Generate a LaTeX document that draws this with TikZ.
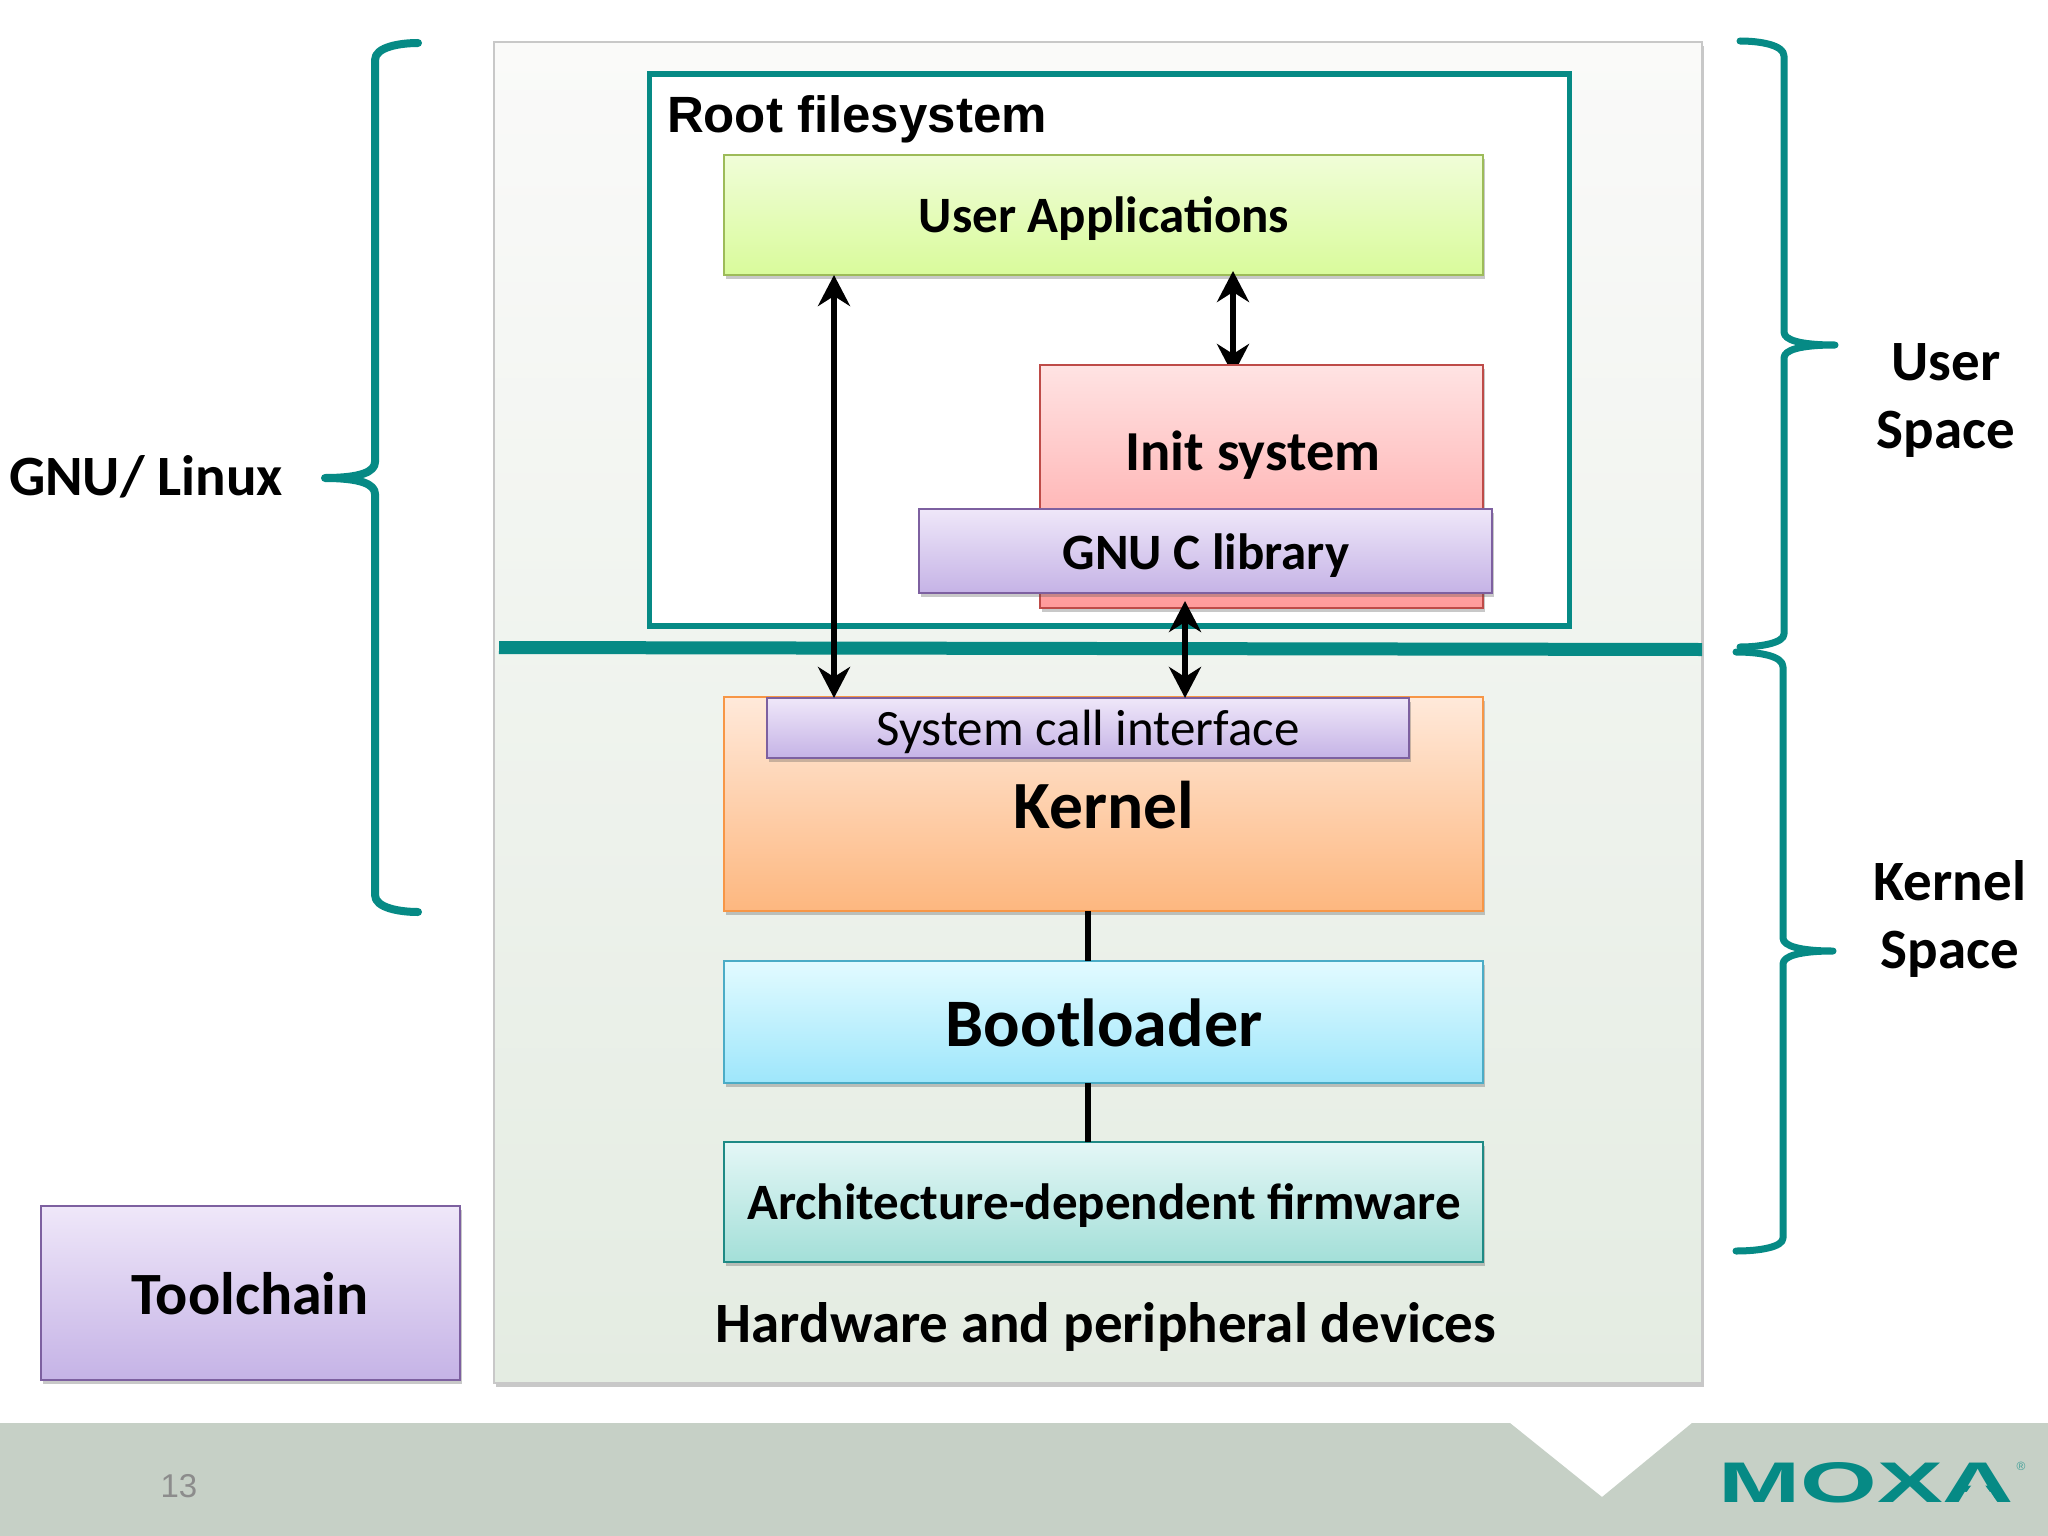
\documentclass[tikz,border=0pt]{standalone}
\usepackage{fontspec}
\setmainfont{Carlito}
\newfontfamily\arialfont{Liberation Sans}
\usetikzlibrary{arrows.meta,shadows,calc}
\definecolor{teal1}{HTML}{068A85}
\definecolor{foot}{HTML}{C6D0C6}
\newcommand{\fsz}[1]{\fontsize{#1}{#1}\selectfont}
\tikzset{
  x=1pt,y=-1pt,
  shad/.style={drop shadow={shadow xshift=2pt,shadow yshift=-4pt,opacity=.3,fill=black!70}},
  boxn/.style={rectangle,inner sep=0pt,outer sep=0pt,line width=1.6pt,shad,align=center},
  brace/.style={draw=teal1,line width=7pt,line cap=round,line join=round},
  dbl/.style={line width=6.4pt,black,{Stealth[length=31pt,width=32pt,inset=10pt]}-{Stealth[length=31pt,width=32pt,inset=10pt]}},
  plain/.style={line width=6pt,black},
  lbl/.style={inner sep=0pt,outer sep=0pt,align=center,font=\bfseries\fsz{57}},
}
\newcommand{\boxat}[8]{%
  \node[boxn,draw=#8,top color=#6,bottom color=#7,minimum width=#4pt-#2pt,minimum height=#5pt-#3pt] (#1) at ({(#2+#4)/2},{(#3+#5)/2}) {};}
\definecolor{pat}{HTML}{FAFAF9}\definecolor{pab}{HTML}{E4ECE2}
\definecolor{gt}{HTML}{F0FDD8}\definecolor{gb}{HTML}{D9FB9B}\definecolor{gd}{HTML}{9DBB59}
\definecolor{rt}{HTML}{FFE3E3}\definecolor{rb}{HTML}{FF9B9B}\definecolor{rd}{HTML}{BE4B48}
\definecolor{pt}{HTML}{EFE7F9}\definecolor{pb}{HTML}{C5B3E6}\definecolor{pd}{HTML}{7D60A0}
\definecolor{ot}{HTML}{FFE9DA}\definecolor{ob}{HTML}{FDB77F}\definecolor{od}{HTML}{F79646}
\definecolor{bt}{HTML}{E2FBFF}\definecolor{bb}{HTML}{9EE6FB}\definecolor{bd}{HTML}{4BACC6}
\definecolor{at}{HTML}{E4F7F6}\definecolor{ab}{HTML}{A3DFD8}\definecolor{ad}{HTML}{1E8A85}
\definecolor{pd0}{HTML}{C8C8C8}
\begin{document}
\begin{tikzpicture}
\useasboundingbox (0,0) rectangle (2048,1536);
\fill[white] (0,0) rectangle (2048,1536);
% footer
\fill[foot] (0,1423) -- (1510,1423) -- (1602,1497) -- (1692,1423) -- (2048,1423) -- (2048,1536) -- (0,1536) -- cycle;
% main panel
\boxat{panel}{494}{42}{1702}{1383}{pat}{pab}{pd0}
% root box
\node[rectangle,draw=teal1,fill=white,line width=5.5pt,inner sep=0pt,minimum width=920pt,minimum height=552pt] (root) at (1109.5,350) {};
\node[lbl,anchor=base west,font=\arialfont\bfseries\fsz{51}] (rootl) at (667,133) {Root filesystem};
% boxes
\boxat{apps}{724}{155}{1483}{275}{gt}{gb}{gd}
\node[lbl,font=\bfseries\fsz{51}] (appsl) at (1104,219) {User Applications};
\coordinate (c1) at (834,0);
\coordinate (c2) at (1185,601);
\coordinate (c3) at (1233,271);
\coordinate (c4) at (1088,0);
\coordinate (initt) at (1233,375);
\coordinate (appstop) at (0,275);
\draw[dbl] (c3) -- (initt);
\boxat{init}{1040}{365}{1483}{608}{rt}{rb}{rd}
\node[lbl,font=\bfseries\fsz{56.5}] (initl) at (1253,455) {Init system};
\boxat{gnuc}{919}{509}{1492}{593}{pt}{pb}{pd}
\node[lbl,font=\bfseries\fsz{51}] (gnucl) at (1206,556) {GNU C library};
% divider
\coordinate (dl) at (499,647.5);
\coordinate (dr) at (1702,649.5);
\draw[draw=teal1,line width=13pt] (dl) -- (dr);
% kernel stack
\boxat{kernel}{724}{697}{1483}{911}{ot}{ob}{od}
\node[lbl,font=\bfseries\fsz{67.5}] (kernell) at (1104,805) {Kernel};
\boxat{sys}{767}{698}{1409}{758}{pt}{pb}{pd}
\node[lbl,font=\fsz{51}] (sysl) at (1088,732) {System call interface};
\boxat{boot}{724}{961}{1483}{1083}{bt}{bb}{bd}
\node[lbl,font=\bfseries\fsz{68}] (bootl) at (1104,1023) {Bootloader};
\boxat{fw}{724}{1142}{1483}{1262}{at}{ab}{ad}
\node[lbl,font=\bfseries\fsz{51}] (fwl) at (1104,1206) {Architecture-dependent firmware};
\node[lbl] (hw) at (1106,1327) {Hardware and peripheral devices};
\draw[plain] (c4 |- kernel.south) -- (c4 |- boot.north);
\draw[plain] (c4 |- boot.south) -- (c4 |- fw.north);
\draw[dbl] (c1 |- appstop) -- (c1 |- sys.north);
\draw[dbl] (c2) -- (c2 |- sys.north);
% toolchain
\boxat{tool}{41}{1206}{460}{1380}{pt}{pb}{pd}
\node[lbl,font=\bfseries\fsz{60}] (tooll) at (250,1294) {Toolchain};
% outer labels
\node[lbl] (gnul) at (146,477) {GNU/ Linux};
\node[lbl] (usl) at (1946,400) {User\\[11pt]Space};
\node[lbl] (ksl) at (1950,919) {Kernel\\[11pt]Space};
% braces
\coordinate (lb1) at (418,43);
\coordinate (lb2) at (325,478);
\coordinate (lb3) at (418,912);
\draw[brace,line width=8pt] (lb1) .. controls (400,43) and (375,47) .. (375,60) -- (375,462)
  .. controls (375,472) and (360,478) .. (lb2) .. controls (360,478) and (375,484) .. (375,494) -- (375,895)
  .. controls (375,908) and (400,912) .. (lb3);
\coordinate (ub1) at (1740,41);
\coordinate (ub2) at (1835,345);
\coordinate (ub3) at (1740,647);
\draw[brace] (ub1) .. controls (1760,41) and (1784,45) .. (1784,56) -- (1784,332)
  .. controls (1784,340) and (1800,345) .. (ub2) .. controls (1800,345) and (1784,350) .. (1784,358) -- (1784,634)
  .. controls (1784,643) and (1760,647) .. (ub3);
\coordinate (kb1) at (1736,652);
\coordinate (kb2) at (1833,951);
\coordinate (kb3) at (1736,1251);
\draw[brace] (kb1) .. controls (1760,652) and (1783,656) .. (1783,667) -- (1783,938)
  .. controls (1783,946) and (1800,951) .. (kb2) .. controls (1800,951) and (1783,956) .. (1783,964) -- (1783,1238)
  .. controls (1783,1247) and (1760,1251) .. (kb3);
% footer text
\node[inner sep=0pt,font=\arialfont\fsz{33},text=black!45] (pg) at (179,1486) {13};
\node[inner sep=0pt,anchor=north west,text=teal1] (moxa) at (1718,1462) {\resizebox{296pt}{40pt}{\arialfont\bfseries MOXA}};
\fill[foot] (1978,1476) -- (1959,1503) -- (1998,1503) -- cycle;
\node[inner sep=0pt,font=\arialfont\fsz{12},text=teal1!70!foot] (reg) at (2021,1466) {®};
\end{tikzpicture}
\end{document}
